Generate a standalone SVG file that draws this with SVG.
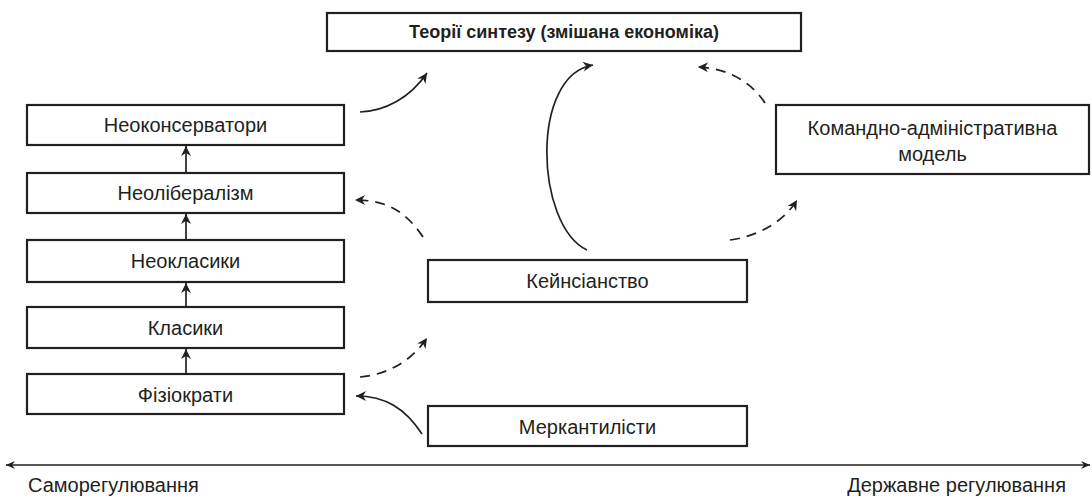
<svg xmlns="http://www.w3.org/2000/svg" width="1092" height="498" viewBox="0 0 1092 498">
<defs>
<style>
.box{fill:#fff;stroke:#231f20;stroke-width:2.2}
.lbl{font-family:"Liberation Sans",Arial,sans-serif;font-size:20px;fill:#231f20;text-anchor:middle}
.ttl{font-family:"Liberation Sans",Arial,sans-serif;font-size:18px;font-weight:bold;fill:#231f20;text-anchor:middle}
.ax{font-family:"Liberation Sans",Arial,sans-serif;font-size:20px;fill:#231f20}
.c{fill:none;stroke:#231f20;stroke-width:1.7}
.d{stroke-dasharray:10 7}
</style>
<marker id="ah" viewBox="-11 -6 12 12" refX="0" refY="0" markerWidth="12" markerHeight="12" markerUnits="userSpaceOnUse" orient="auto">
<path d="M0,0 L-10,-5 L-7,0 L-10,5 Z" fill="#231f20"/>
</marker>
<marker id="ax" viewBox="-11 -6 12 12" refX="0" refY="0" markerWidth="12" markerHeight="12" markerUnits="userSpaceOnUse" orient="auto-start-reverse">
<path d="M0,0 L-9,-4 L-6,0 L-9,4 Z" fill="#231f20"/>
</marker>
</defs>
<rect width="1092" height="498" fill="#fff"/>

<g id="connectors">
<line class="c" x1="186" y1="173" x2="186" y2="146" marker-end="url(#ah)"/>
<line class="c" x1="186" y1="240" x2="186" y2="214" marker-end="url(#ah)"/>
<line class="c" x1="186" y1="307" x2="186" y2="283" marker-end="url(#ah)"/>
<line class="c" x1="186" y1="374" x2="186" y2="349" marker-end="url(#ah)"/>
<path class="c" d="M360,112 C385,111 410,98 427,73" marker-end="url(#ah)"/>
<path class="c" d="M587,250 C535,225 530,75 593,65" marker-end="url(#ah)"/>
<path class="c d" d="M765,103 C750,80 725,68 698,67" marker-end="url(#ah)"/>
<path class="c d" d="M730,240 C760,236 785,220 797,200" marker-end="url(#ah)"/>
<path class="c d" d="M423,237 C405,210 385,200 355,200" marker-end="url(#ah)"/>
<path class="c d" d="M360,377 C390,374 412,360 427,338" marker-end="url(#ah)"/>
<path class="c" d="M422,434 C405,408 385,396 356,396" marker-end="url(#ah)"/>
<line class="c" x1="6" y1="465" x2="1090" y2="465" marker-start="url(#ax)" marker-end="url(#ax)"/>
</g>

<g id="n-synthesis">
<rect class="box" x="327" y="13" width="474" height="38"/>
<text class="ttl" x="564" y="38">Теорії синтезу (змішана економіка)</text>
</g>
<g id="n-neocons">
<rect class="box" x="27" y="105" width="317" height="40"/>
<text class="lbl" x="185.5" y="132">Неоконсерватори</text>
</g>
<g id="n-neolib">
<rect class="box" x="27" y="173" width="317" height="40"/>
<text class="lbl" x="185.5" y="200">Неолібералізм</text>
</g>
<g id="n-neoclass">
<rect class="box" x="27" y="240" width="317" height="42"/>
<text class="lbl" x="185.5" y="268">Неокласики</text>
</g>
<g id="n-class">
<rect class="box" x="27" y="307" width="317" height="41"/>
<text class="lbl" x="185.5" y="335">Класики</text>
</g>
<g id="n-physio">
<rect class="box" x="27" y="374" width="317" height="40"/>
<text class="lbl" x="185.5" y="402">Фізіократи</text>
</g>
<g id="n-keynes">
<rect class="box" x="428" y="260" width="319" height="42"/>
<text class="lbl" x="587.5" y="288">Кейнсіанство</text>
</g>
<g id="n-merc">
<rect class="box" x="428" y="406" width="319" height="40"/>
<text class="lbl" x="587.5" y="434">Меркантилісти</text>
</g>
<g id="n-command">
<rect class="box" x="776" y="105" width="313" height="69"/>
<text class="lbl" x="932.5" y="135">Командно-адміністративна</text>
<text class="lbl" x="932.5" y="161">модель</text>
</g>
<g id="axis-labels">
<text class="ax" x="28" y="492">Саморегулювання</text>
<text class="ax" x="1066" y="492" text-anchor="end">Державне регулювання</text>
</g>
</svg>
